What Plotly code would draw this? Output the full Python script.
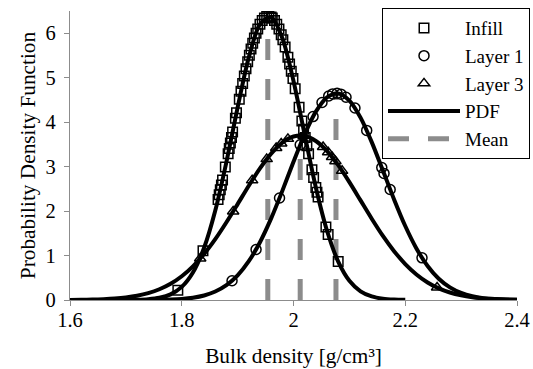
import plotly.graph_objects as go

# ---- data ----
curve_x_infill = [1.60, 1.62, 1.64, 1.66, 1.68, 1.70, 1.72, 1.74, 1.76, 1.78, 1.80, 1.82, 1.84, 1.86,
                  1.88, 1.90, 1.92, 1.94, 1.96, 1.98, 2.00, 2.02, 2.04, 2.06, 2.08, 2.10, 2.12, 2.14,
                  2.16, 2.18, 2.20]
curve_y_infill = [0.0, 0.0, 0.0, 0.0001, 0.0004, 0.0016, 0.0054, 0.0172, 0.049, 0.127, 0.295, 0.619,
                  1.174, 2.011, 3.107, 4.334, 5.457, 6.202, 6.363, 5.892, 4.926, 3.717, 2.531, 1.557,
                  0.864, 0.433, 0.196, 0.080, 0.029, 0.010, 0.003]

curve_x_wide = [1.60, 1.62, 1.64, 1.66, 1.68, 1.70, 1.72, 1.74, 1.76, 1.78, 1.80, 1.82, 1.84, 1.86,
                1.88, 1.90, 1.92, 1.94, 1.96, 1.98, 2.00, 2.02, 2.04, 2.06, 2.08, 2.10, 2.12, 2.14,
                2.16, 2.18, 2.20, 2.22, 2.24, 2.26, 2.28, 2.30, 2.32, 2.34, 2.36, 2.38, 2.40]
curve_y_layer1 = [0.0, 0.0, 0.0, 0.0, 0.0001, 0.0003, 0.0008, 0.0021, 0.0050, 0.0116, 0.0253, 0.0524,
                  0.102, 0.190, 0.333, 0.554, 0.872, 1.300, 1.835, 2.454, 3.109, 3.729, 4.237, 4.560,
                  4.647, 4.486, 4.101, 3.551, 2.912, 2.262, 1.664, 1.160, 0.765, 0.478, 0.283, 0.159,
                  0.084, 0.042, 0.020, 0.009, 0.004]
curve_y_layer3 = [0.0025, 0.0050, 0.0096, 0.0179, 0.032, 0.056, 0.094, 0.153, 0.241, 0.365, 0.535,
                  0.758, 1.036, 1.369, 1.748, 2.157, 2.571, 2.960, 3.293, 3.541, 3.677, 3.690, 3.577,
                  3.351, 3.033, 2.651, 2.240, 1.828, 1.441, 1.099, 0.809, 0.575, 0.395, 0.262, 0.168,
                  0.104, 0.062, 0.036, 0.020, 0.011, 0.006]

infill_x = [1.793, 1.838, 1.865, 1.867, 1.869, 1.871, 1.873, 1.878, 1.883, 1.885, 1.887, 1.889, 1.891,
            1.896, 1.898, 1.903, 1.906, 1.909, 1.912, 1.915, 1.918, 1.921, 1.924, 1.927, 1.930, 1.933,
            1.936, 1.940, 1.944, 1.948, 1.952, 1.956, 1.960, 1.962, 1.966, 1.970, 1.974, 1.978, 1.981,
            1.985, 1.990, 1.993, 1.996, 1.999, 2.003, 2.010, 2.015, 2.018, 2.021, 2.024, 2.027, 2.033,
            2.036, 2.040, 2.042, 2.044, 2.058, 2.062, 2.080]
infill_y = [0.222, 1.107, 2.263, 2.369, 2.477, 2.587, 2.699, 2.989, 3.287, 3.409, 3.532, 3.655, 3.779,
            4.088, 4.212, 4.516, 4.694, 4.868, 5.038, 5.201, 5.357, 5.505, 5.645, 5.774, 5.892, 5.999,
            6.095, 6.202, 6.285, 6.343, 6.376, 6.382, 6.363, 6.343, 6.285, 6.202, 6.095, 5.965, 5.854,
            5.689, 5.457, 5.306, 5.147, 4.982, 4.753, 4.334, 4.026, 3.841, 3.655, 3.470, 3.287, 2.930,
            2.756, 2.531, 2.422, 2.316, 1.642, 1.474, 0.864]

layer1_x = [1.890, 1.933, 1.975, 2.012, 2.035, 2.051, 2.063, 2.070, 2.078, 2.085, 2.094, 2.110, 2.131,
            2.158, 2.162, 2.173, 2.230]
layer1_y = [0.432, 1.137, 2.294, 3.490, 4.125, 4.441, 4.589, 4.635, 4.650, 4.630, 4.560, 4.319, 3.814,
            2.978, 2.847, 2.486, 0.948]

layer3_x = [1.833, 1.892, 1.926, 1.952, 1.969, 1.978, 1.990, 2.018, 2.053, 2.062, 2.069, 2.075, 2.087,
            2.257]
layer3_y = [0.932, 1.991, 2.691, 3.169, 3.417, 3.520, 3.624, 3.694, 3.442, 3.323, 3.217, 3.119, 2.905,
            0.280]

mean_x = [1.954, 2.076, 2.012]
mean_top = [6.38, 4.65, 3.70]

FONT = "Liberation Serif"
fig = go.Figure()

# mean lines (drawn first, behind everything)
mx, my = [], []
for m, t in zip(mean_x, mean_top):
    mx += [m, m, None]
    my += [0, t, None]
fig.add_trace(go.Scatter(x=mx, y=my, mode="lines", name="Mean", legendrank=5,
                         line=dict(color="#8c8c8c", width=5, dash="21px,19px"),
                         connectgaps=False))

# PDF curves
for i, (cx, cy) in enumerate([(curve_x_infill, curve_y_infill),
                              (curve_x_wide, curve_y_layer1),
                              (curve_x_wide, curve_y_layer3)]):
    fig.add_trace(go.Scatter(x=cx, y=cy, mode="lines", name="PDF", legendgroup="pdf",
                             showlegend=(i == 0), legendrank=4,
                             line=dict(color="black", width=4, shape="spline", smoothing=0.8)))

marker_line = dict(color="black", width=1.5)
fig.add_trace(go.Scatter(x=infill_x, y=infill_y, mode="markers", name="Infill", legendrank=1,
                         marker=dict(symbol="square-open", size=9.5, color="black", line=marker_line)))
fig.add_trace(go.Scatter(x=layer1_x, y=layer1_y, mode="markers", name="Layer 1", legendrank=2,
                         marker=dict(symbol="circle-open", size=10, color="black", line=marker_line)))
fig.add_trace(go.Scatter(x=layer3_x, y=layer3_y, mode="markers", name="Layer 3", legendrank=3,
                         marker=dict(symbol="triangle-up-open", size=10, color="black", line=marker_line)))

axis_common = dict(showgrid=False, zeroline=False, showline=True, linecolor="#8c8c8c", linewidth=1.3,
                   ticks="outside", ticklen=5, tickcolor="#8c8c8c", tickwidth=1.3,
                   tickfont=dict(family=FONT, size=20.5, color="black"))

fig.update_xaxes(range=[1.6, 2.4], tickvals=[1.6, 1.8, 2.0, 2.2, 2.4],
                 ticktext=["1.6", "1.8", "2", "2.2", "2.4"], ticklabelstandoff=-4,
                 title=dict(text="Bulk density [g/cm³]", font=dict(family=FONT, size=21.3, color="black"),
                            standoff=18),
                 **axis_common)
fig.update_yaxes(range=[0, 6.5], tickvals=[0, 1, 2, 3, 4, 5, 6], ticklabelstandoff=4,
                 title=dict(text="Probability Density Function",
                            font=dict(family=FONT, size=21.3, color="black"), standoff=4),
                 **axis_common)

fig.update_layout(
    width=533, height=369,
    margin=dict(l=70, r=16, t=11, b=69, autoexpand=False),
    plot_bgcolor="white", paper_bgcolor="white",
    legend=dict(x=0.698, y=1.01, xanchor="left", yanchor="top",
                bordercolor="black", borderwidth=1, bgcolor="white",
                font=dict(family=FONT, size=19, color="black"),
                itemwidth=72, tracegroupgap=0),
    showlegend=True,
)

fig.write_html("out.html")
